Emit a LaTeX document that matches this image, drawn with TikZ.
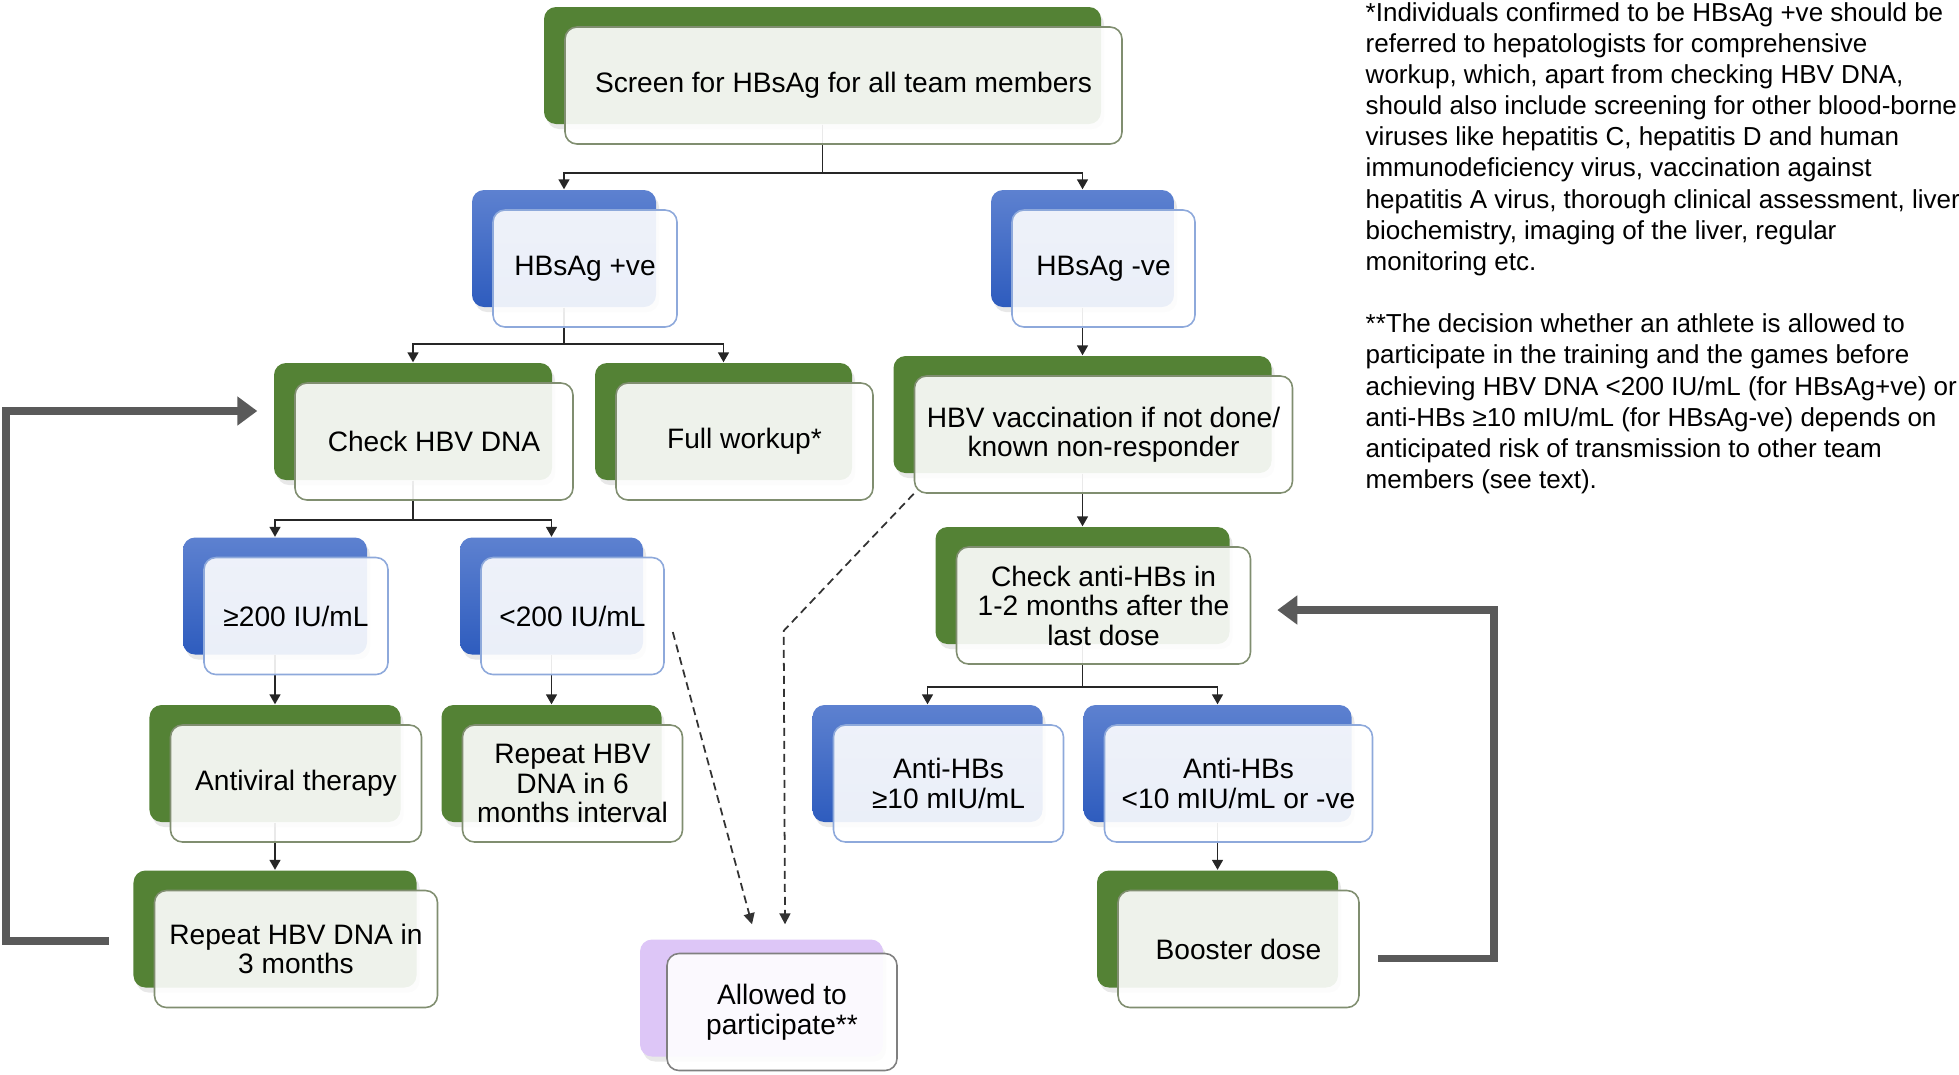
\documentclass[tikz,border=0pt]{standalone}
\usepackage{fontspec}
\setmainfont{Liberation Sans}
\usetikzlibrary{arrows.meta,positioning,calc,shadows,backgrounds}

\definecolor{hbgreen}{RGB}{84,130,53}
\definecolor{hbgreenline}{RGB}{128,142,112}
\definecolor{hbblueT}{RGB}{93,129,208}
\definecolor{hbblueB}{RGB}{46,92,190}
\definecolor{hbblueline}{RGB}{142,169,219}
\definecolor{hbpurple}{RGB}{221,198,247}
\definecolor{hbgray}{RGB}{90,90,90}

\begin{document}
\begin{tikzpicture}[x=1mm, y=1mm, node distance=17.3mm]

\tikzstyle{cell} = [rectangle, rounded corners=1.2mm, minimum height=11.7mm, inner sep=0pt, drop shadow={opacity=0.18, shadow xshift=0.3mm, shadow yshift=-0.5mm}]
\tikzstyle{gcell} = [cell, fill=hbgreen]
\tikzstyle{bcell} = [cell, top color=hbblueT, bottom color=hbblueB]
\tikzstyle{pcell} = [cell, fill=hbpurple]
\tikzstyle{front} = [rectangle, rounded corners=1.2mm, minimum height=11.7mm, inner sep=0.5mm, fill=white, fill opacity=0.9, text opacity=1, line width=0.45pt, align=center, font=\fontsize{8}{8.4}\selectfont, xshift=2.1mm, yshift=-2mm]
\tikzstyle{gfront} = [front, draw=hbgreenline]
\tikzstyle{bfront} = [front, draw=hbblueline]
\tikzstyle{pfront} = [front, draw=gray, xshift=0.6mm, yshift=0.6mm]
\tikzstyle{arrow} = [line width=0.45pt, draw=black!85, ->, >={Triangle[length=1mm, width=1.1mm]}]
\tikzstyle{maybe} = [line width=0.5pt, draw=black!80, dash pattern=on 0.8mm off 0.5mm, ->, >={Triangle[length=1.1mm, width=1.1mm]}]
\tikzstyle{recheck} = [line width=0.75mm, draw=hbgray, line join=miter, -{Triangle[length=2mm, width=2.8mm]}]

\useasboundingbox (0,0) rectangle (195.9,-107.4);

%% ------------------
%% -- SCREENING --
%% ------------------

\node (scr) [gcell, minimum width=55.7mm, label={[gfront, minimum width=55.7mm, name=scr_f]center:Screen for HBsAg for all team members}] at (82.25,-6.55) {};

\node (hbpos) [bcell, minimum width=18.4mm, below of=scr, xshift=-25.85mm, yshift=-1mm, label={[bfront, minimum width=18.4mm, name=hbpos_f]center:HBsAg +ve}] {};
\node (hbneg) [bcell, minimum width=18.3mm, below of=scr, xshift=26mm, yshift=-1mm, label={[bfront, minimum width=18.3mm, name=hbneg_f]center:HBsAg -ve}] {};

%% ------------------
%% -- HBsAg +ve --
%% ------------------

\node (dna) [gcell, minimum width=27.8mm, below of=hbpos, xshift=-15.1mm, label={[gfront, minimum width=27.8mm, name=dna_f]center:Check HBV DNA}] {};
\node (work) [gcell, minimum width=25.7mm, below of=hbpos, xshift=15.95mm, label={[gfront, minimum width=25.7mm, name=work_f]center:Full workup*}] {};

\node (hi) [bcell, minimum width=18.4mm, below of=dna, xshift=-13.8mm, yshift=-0.15mm, label={[bfront, minimum width=18.4mm, name=hi_f]center:≥200 IU/mL}] {};
\node (lo) [bcell, minimum width=18.3mm, below of=dna, xshift=13.85mm, yshift=-0.15mm, label={[bfront, minimum width=18.3mm, name=lo_f]center:<200 IU/mL}] {};

\node (antiv) [gcell, minimum width=25.1mm, below of=hi, yshift=0.55mm, label={[gfront, minimum width=25.1mm, name=antiv_f]center:Antiviral therapy}] {};
\node (rep6) [gcell, minimum width=22mm, below of=lo, yshift=0.55mm, label={[gfront, minimum width=22mm, name=rep6_f]center:Repeat HBV\\DNA in 6\\months interval}] {};

\node (rep3) [gcell, minimum width=28.3mm, below of=antiv, yshift=0.75mm, label={[gfront, minimum width=28.3mm, name=rep3_f]center:Repeat HBV DNA in\\3 months}] {};

%% ------------------
%% -- HBsAg -ve --
%% ------------------

\node (vacc) [gcell, minimum width=37.8mm, below of=hbneg, yshift=0.7mm, label={[gfront, minimum width=37.8mm, name=vacc_f]center:HBV vaccination if not done/\\known non-responder}] {};
\node (anti) [gcell, minimum width=29.4mm, below of=vacc, yshift=0.2mm, label={[gfront, minimum width=29.4mm, name=anti_f]center:Check anti-HBs in\\1-2 months after the\\last dose}] {};

\node (ahi) [bcell, minimum width=23mm, below of=anti, xshift=-15.5mm, yshift=-0.5mm, label={[bfront, minimum width=23mm, name=ahi_f]center:Anti-HBs\\≥10 mIU/mL}] {};
\node (alo) [bcell, minimum width=26.8mm, below of=anti, xshift=13.5mm, yshift=-0.5mm, label={[bfront, minimum width=26.8mm, name=alo_f]center:Anti-HBs\\<10 mIU/mL or -ve}] {};

\node (boost) [gcell, minimum width=24.1mm, below of=alo, yshift=0.75mm, label={[gfront, minimum width=24.1mm, name=boost_f]center:Booster dose}] {};

% outcome
\node (allow) [pcell, minimum width=24.3mm] at (76.15,-99.8) [label={[pfront, minimum width=23mm, xshift=-0.65mm, name=allow_f]center:Allowed to\\participate**}] {};

% connectors behind the boxes
\begin{scope}[on background layer]
\draw [arrow] (scr.south) -- ++(0,-4.8) -| (hbpos.north);
\draw [arrow] (scr.south) -- ++(0,-4.8) -| (hbneg.north);

\draw [arrow] (hbpos.south) -- ++(0,-3.65) -| (dna.north);
\draw [arrow] (hbpos.south) -- ++(0,-3.65) -| (work.north);
\draw [arrow] (hbneg.south) -- (hbneg.south |- vacc.north);

\draw [arrow] (dna.south) -- ++(0,-3.95) -| (hi.north);
\draw [arrow] (dna.south) -- ++(0,-3.95) -| (lo.north);
\draw [arrow] (vacc.south) -- (anti.north);

\draw [arrow] (hi.south) -- (antiv.north);
\draw [arrow] (lo.south) -- (rep6.north);
\draw [arrow] (anti.south) -- ++(0,-4.2) -| (ahi.north);
\draw [arrow] (anti.south) -- ++(0,-4.2) -| (alo.north);

\draw [arrow] (antiv.south) -- (rep3.north);
\draw [arrow] (alo.south) -- (boost.north);
\end{scope}

% dashed routes to participation
\draw [maybe] ($(lo_f.east)+(0.8,-1.6)$) -- ($(allow.north)+(-0.95,1.45)$);
\draw [maybe] (vacc_f.south west) -- ++(-13,-13.7) -- ($(allow.north)+(2.35,1.45)$);

% repeat loops
\draw [recheck] ($(rep3.west)+(-2.4,-1.2)$) -- ++(-10.3,0) |- ($(dna.west)+(-1.6,1.05)$);
\draw [recheck] ($(boost_f.east)+(1.8,-0.95)$) -- ++(11.6,0) |- ($(anti_f.east)+(2.6,-0.45)$);

% footnotes
\node (notes) [anchor=north west, align=left, inner sep=0pt, font=\fontsize{7.4}{8.87}\selectfont] at (136.5,-0.15) {*Individuals confirmed to be HBsAg +ve should be\\
referred to hepatologists for comprehensive\\
workup, which, apart from checking HBV DNA,\\
should also include screening for other blood-borne\\
viruses like hepatitis C, hepatitis D and human\\
immunodeficiency virus, vaccination against\\
hepatitis A virus, thorough clinical assessment, liver\\
biochemistry, imaging of the liver, regular\\
monitoring etc.\\[8.87pt]
**The decision whether an athlete is allowed to\\
participate in the training and the games before\\
achieving HBV DNA <200 IU/mL (for HBsAg+ve) or\\
anti-HBs ≥10 mIU/mL (for HBsAg-ve) depends on\\
anticipated risk of transmission to other team\\
members (see text).};

\end{tikzpicture}
\end{document}
